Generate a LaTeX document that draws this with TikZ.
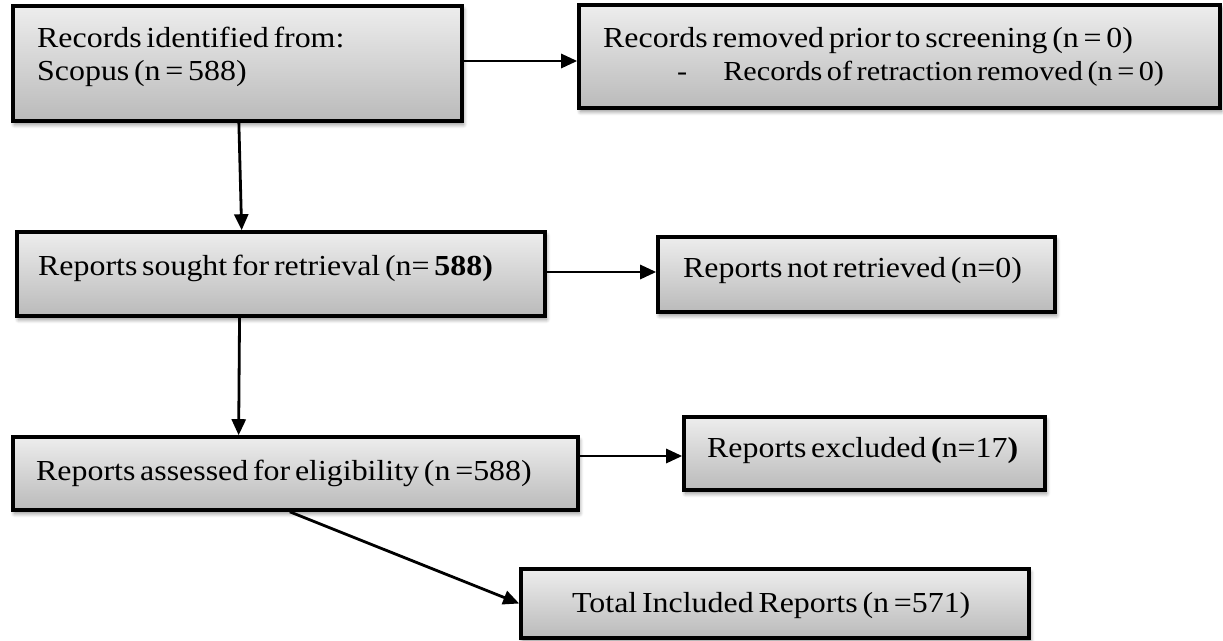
\documentclass[tikz,border=0pt]{standalone}
\usepackage{fontspec}
\setmainfont{Liberation Serif}[FakeStretch=1.1,WordSpace=0.6]
\usetikzlibrary{arrows.meta,calc,shadows.blur}
\tikzset{
  box/.style={draw=black, line width=3.6pt, top color=black!7, bottom color=black!27,
    inner sep=0pt, blur shadow={shadow xshift=1.5pt, shadow yshift=-3.5pt, shadow blur steps=8, shadow blur radius=4pt, shadow opacity=45}},
  txt/.style={anchor=base west, inner sep=0pt, font=\fontsize{29}{33}\selectfont},
  conn/.style={line width=2.8pt, -{Triangle[length=16pt,width=14pt]}}
}
\newcommand{\boxat}[5]{%
  \node[box, minimum width={#4-#2}, minimum height={#5-#3}] (#1) at ({(#2+#4)/2},{(#3+#5)/2}) {};}
\begin{document}
\begin{tikzpicture}[x=1pt,y=-1pt]
\useasboundingbox (0,0) rectangle (1223,640);
\boxat{b1}{13}{6}{462}{121}
\boxat{b2}{579}{5}{1220}{108}
\boxat{b3}{17}{232}{545}{316}
\boxat{b4}{658}{237}{1055}{312}
\boxat{b5}{13}{437}{578}{510}
\boxat{b6}{684}{417}{1045}{490}
\boxat{b7}{521}{569}{1029}{638}

\node[txt] (t1a) at (37,47) {Records identified from:};
\node[txt] (t1b) at (37,80) {Scopus (n = 588)};
\node[txt] (t2a) at (603,47) {Records removed prior to screening (n = 0)};
\node[txt, font=\fontsize{27.5}{33}\selectfont] (t2b) at (677,80) {-\hspace*{36pt}Records of retraction removed (n = 0)};
\node[txt] (t3) at (38,275) {Reports sought for retrieval (n= \textbf{588)}};
\node[txt] (t4) at (683,277) {Reports not retrieved (n=0)};
\node[txt] (t5) at (36,480) {Reports assessed for eligibility (n =588)};
\node[txt] (t6) at (707,457) {Reports excluded \textbf{(}n=17\textbf{)}};
\node[txt] (t7) at (572,612) {Total Included Reports (n =571)};

\draw[conn] ([yshift=2.5pt]b1.east) -- ([yshift=2.5pt]b1.east -| b2.west);
\draw[conn] ($(b1.south west)!0.503!(b1.south east)$) -- ($(b3.north west)!0.426!(b3.north east)$);
\draw[conn] ([yshift=2pt]b3.east) -- ([yshift=2pt]b3.east -| b4.west);
\draw[conn] ($(b3.south west)!0.422!(b3.south east)$) -- ($(b5.north west)!0.4!(b5.north east)$);
\draw[conn] ([yshift=-2.5pt]b6.west -| b5.east) -- ([yshift=-2.5pt]b6.west);
\draw[conn] ($(b5.south west)!0.49!(b5.south east)$) -- (b7.west);
\end{tikzpicture}
\end{document}
